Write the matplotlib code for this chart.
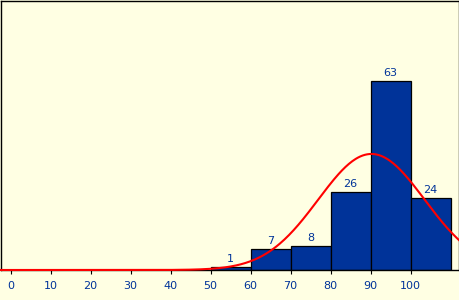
import numpy as np
import matplotlib
matplotlib.use("Agg")
import matplotlib.pyplot as plt

# --- Data ---
bin_edges = [50, 60, 70, 80, 90, 100]       # left edge of each bin
counts = [1, 7, 8, 26, 63, 24]
bin_width = 10
tick_values = [0, 10, 20, 30, 40, 50, 60, 70, 80, 90, 100]
fit_mean = 90.2      # normal fit drawn over the histogram
fit_std = 13.3

# --- Colours ---
bg = "#ffffe3"
bar_blue = "#003399"
label_blue = "#003399"

fig = plt.figure(figsize=(4.6, 3.0), dpi=100, facecolor=bg)
ax = fig.add_axes([1 / 460, 30 / 300, 458 / 460, 269 / 300])
ax.set_facecolor(bg)

ax.bar(bin_edges, counts, width=bin_width, align="edge",
       color=bar_blue, edgecolor="black", linewidth=0.9, zorder=2)

for left, c in zip(bin_edges, counts):
    ax.annotate(str(c), (left + bin_width / 2, c), xytext=(0, 2.5),
                textcoords="offset points", ha="center", va="bottom",
                fontsize=8, color=label_blue, zorder=4)

ax.set_xlim(-2.4, 112.1)
ax.set_ylim(0, 89.7)

# normal curve scaled to the histogram counts
xs = np.linspace(-2.4, 112.1, 400)
scale = sum(counts) * bin_width / (fit_std * np.sqrt(2 * np.pi))
ys = scale * np.exp(-0.5 * ((xs - fit_mean) / fit_std) ** 2)
ax.plot(xs, ys, color="red", linewidth=1.5, zorder=5, clip_on=False)

ax.set_xticks(tick_values)
ax.set_xticklabels([str(t) for t in tick_values], fontsize=8, color=label_blue)
ax.tick_params(axis="x", length=3, width=0.8, pad=5, direction="out")
ax.set_yticks([])

for s in ax.spines.values():
    s.set_linewidth(1.0)
    s.set_color("black")

fig.savefig("out.png", dpi=100, facecolor=bg)
